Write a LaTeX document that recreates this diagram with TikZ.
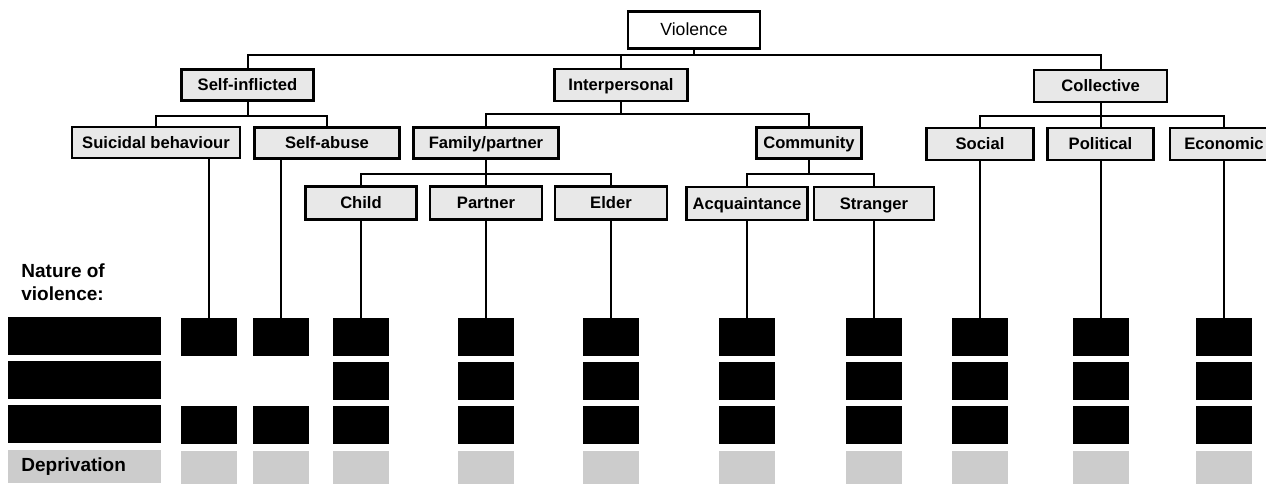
\documentclass[tikz,border=0pt]{standalone}
\usepackage{fontspec}
\setmainfont{Liberation Sans}
\usepackage{tikz}

\begin{document}
\begin{tikzpicture}[x=0.5pt,y=-0.5pt,
  catbox/.style={draw, line width=1.1pt, fill=black!9, inner sep=0pt, minimum height=15.5pt, text height=6pt, text depth=0pt, font=\fontsize{8.3}{10}\selectfont\bfseries},
  link/.style={line width=1pt},
  natbox/.style={fill=black, inner sep=0pt, minimum width=28pt, minimum height=19pt},
  depbox/.style={fill=black!20, inner sep=0pt, minimum width=28pt, minimum height=16.5pt},
  keytext/.style={inner sep=0pt, font=\fontsize{9.5}{11.5}\selectfont\bfseries}]

\useasboundingbox (0,0) rectangle (1266,485);

% top of the tree
\node[catbox, fill=white, minimum width=66pt, minimum height=18.5pt, font=\fontsize{8.8}{10}\selectfont] (violence) at (694,30) {Violence};
\node[catbox, minimum width=66pt] (selfinf) at (247.5,85) {Self-inflicted};
\node[catbox, minimum width=66.5pt, minimum height=16pt] (interp) at (621,85) {Interpersonal};
\node[catbox, minimum width=66.5pt, minimum height=16pt] (collective) at (1100.7,86) {Collective};

% second level
\node[catbox, minimum width=84pt] (suicidal) at (156,142.5) {Suicidal behaviour};
\node[catbox, minimum width=72.5pt] (selfabuse) at (327,143) {Self-abuse};
\node[catbox, minimum width=72.5pt] (family) at (486,143) {Family/partner};
\node[catbox, minimum width=52.5pt] (community) at (809,143) {Community};
\node[catbox, minimum width=53.5pt, minimum height=16pt] (social) at (980,144) {Social};
\node[catbox, minimum width=53pt, minimum height=16pt] (political) at (1100.5,144) {Political};
\node[catbox, minimum width=54pt, minimum height=16pt] (economic) at (1224,144) {Economic};

% third level
\node[catbox, minimum width=55.5pt, minimum height=16.5pt] (child) at (361,203) {Child};
\node[catbox, minimum width=56pt, minimum height=16.5pt] (partner) at (486,203) {Partner};
\node[catbox, minimum width=56pt, minimum height=16.5pt] (elder) at (611,203) {Elder};
\node[catbox, minimum width=60.5pt, minimum height=16.5pt] (acq) at (747,203.5) {Acquaintance};
\node[catbox, minimum width=60pt, minimum height=16.5pt] (stranger) at (874,203.5) {Stranger};

% bars
\coordinate (topbar) at (694,55);
\coordinate (sibar) at (247.5,116);
\coordinate (ipbar) at (621,114);
\coordinate (cobar) at (1100.7,116);
\coordinate (fabar) at (486,174);
\coordinate (cmbar) at (809,174);

\draw[link] (violence) -- (topbar);
\draw[link] (selfinf.north) |- (topbar) -| (collective.north);
\draw[link] (interp.north) -- (interp.north |- topbar);
\draw[link] (selfinf) -- (sibar);
\draw[link] (suicidal.north) |- (sibar) -| (selfabuse.north);
\draw[link] (interp) -- (ipbar);
\draw[link] (family.north) |- (ipbar) -| (community.north);
\draw[link] (collective) -- (cobar);
\draw[link] (social.north) |- (cobar) -| (economic.north);
\draw[link] (political.north) -- (political.north |- cobar);
\draw[link] (family) -- (fabar);
\draw[link] (child.north) |- (fabar) -| (elder.north);
\draw[link] (partner.north) -- (partner.north |- fabar);
\draw[link] (community) -- (cmbar);
\draw[link] (acq.north) |- (cmbar) -| (stranger.north);

% key column
\node[keytext, anchor=north west, align=left] (naturelabel) at (21,263) {Nature of\\violence:};
\foreach \r/\y in {1/336, 2/380.5, 3/424.5}
  \node[natbox, minimum width=76.5pt] (key-\r) at (84.5,\y) {};
\node[depbox, minimum width=76.5pt] (key-dep) at (84.5,466.7) {};
\node[keytext, anchor=west] (deplabel) at (21,467) {Deprivation};

% columns under each kind of violence
\foreach \n/\x in {suicidal/209, selfabuse/281} {
  \node[natbox] (nat-\n-1) at (\x,337) {};
  \node[natbox] (nat-\n-3) at (\x,425) {};
  \node[depbox] (dep-\n) at (\x,467.5) {};
}
\foreach \n/\x in {child/361, partner/486, elder/611, acq/747, stranger/874, social/980, political/1101, economic/1224} {
  \node[natbox] (nat-\n-1) at (\x,337) {};
  \node[natbox] (nat-\n-2) at (\x,381) {};
  \node[natbox] (nat-\n-3) at (\x,425) {};
  \node[depbox] (dep-\n) at (\x,467.5) {};
}
\foreach \n in {suicidal, selfabuse, child, partner, elder, acq, stranger, social, political, economic}
  \draw[link] (nat-\n-1.north) -- (nat-\n-1.north |- \n.south);

\end{tikzpicture}
\end{document}
